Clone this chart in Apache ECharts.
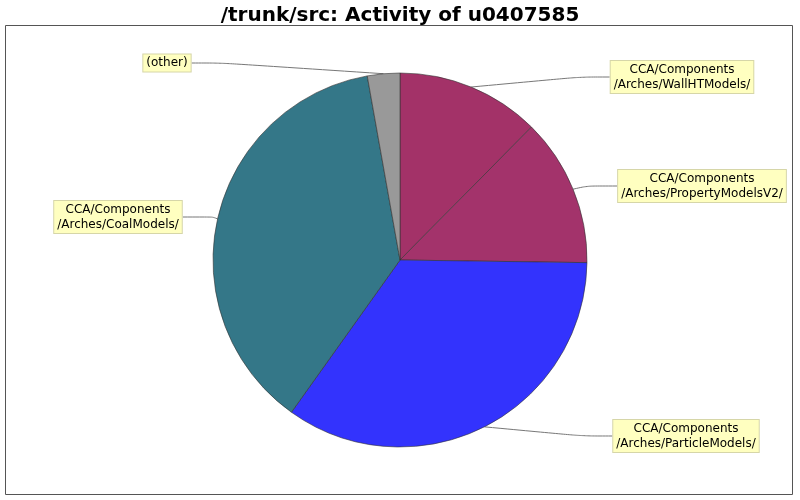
<!DOCTYPE html>
<html>
<head>
<meta charset="utf-8">
<script src="https://cdn.jsdelivr.net/npm/echarts@6/dist/echarts.min.js"></script>
<style>
html, body { margin: 0; padding: 0; background: #fff; }
#main { width: 800px; height: 500px; }
</style>
</head>
<body>
<div id="main"></div>
<script>
// 数据
var names = [
    'CCA/Components\n/Arches/WallHTModels/',
    'CCA/Components\n/Arches/PropertyModelsV2/',
    'CCA/Components\n/Arches/ParticleModels/',
    'CCA/Components\n/Arches/CoalModels/',
    '(other)'
];
var values = [12.4, 12.8, 34.6, 37.3, 2.8];
var colors = ['#a33268', '#a3336b', '#3333fd', '#347788', '#999999'];

// label box centres (layout only)
var labelPos = [[682, 77], [702, 186], [686, 436], [118, 217], [167, 63]];

var chart = echarts.init(document.getElementById('main'));

var option = {
    backgroundColor: '#ffffff',
    animation: false,
    title: {
        text: '/trunk/src: Activity of u0407585',
        left: 'center',
        top: 1,
        textStyle: {
            fontFamily: 'DejaVu Sans',
            fontWeight: 'bold',
            fontSize: 20,
            color: '#000'
        }
    },
    graphic: [{
        type: 'rect',
        shape: { x: 5.5, y: 25.5, width: 787, height: 469 },
        style: { fill: 'none', stroke: '#555', lineWidth: 1 },
        z: -1
    }],
    series: [{
        type: 'pie',
        center: [400, 260],
        radius: 187,
        startAngle: 90,
        clockwise: true,
        avoidLabelOverlap: false,
        itemStyle: {
            borderColor: '#333',
            borderWidth: 0.6
        },
        label: {
            show: true,
            fontFamily: 'DejaVu Sans',
            fontSize: 12,
            lineHeight: 15,
            color: '#000',
            align: 'center',
            backgroundColor: '#ffffc0',
            borderColor: '#d6d6a8',
            borderWidth: 1,
            padding: [1, 3, 1, 3]
        },
        labelLine: {
            show: true,
            smooth: 0.3,
            lineStyle: { color: '#777', width: 1 }
        },
        labelLayout: function (params) {
            var p = labelPos[params.dataIndex];
            return {
                x: p[0],
                y: p[1],
                align: 'center',
                verticalAlign: 'middle'
            };
        },
        emphasis: { disabled: true },
        data: names.map(function (n, i) {
            return { name: n, value: values[i], itemStyle: { color: colors[i] } };
        })
    }]
};

chart.setOption(option);
</script>
</body>
</html>
